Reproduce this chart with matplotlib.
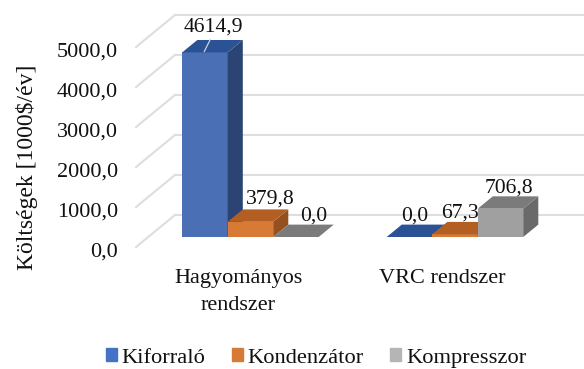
import matplotlib.pyplot as plt
from matplotlib.patches import Patch
from matplotlib.transforms import ScaledTranslation

plt.rcParams['font.family'] = ['Liberation Serif', 'DejaVu Sans']

categories = ['Hagyományos\nrendszer', 'VRC rendszer']
series_names = ['Kiforraló', 'Kondenzátor', 'Kompresszor']
kiforralo = [4614.9, 0.0]
kondenzator = [379.8, 67.3]
kompresszor = [0.0, 706.8]
y_ticks = [0, 1000, 2000, 3000, 4000, 5000]

# front, top, side shade of each series
colors = {
    'Kiforraló': ('#4a6fb4', '#2c5296', '#2c4474'),
    'Kondenzátor': ('#d67a35', '#b35e22', '#94501e'),
    'Kompresszor': ('#a0a0a0', '#7b7b7b', '#6a6a6a'),
}
legend_colors = ['#4472c4', '#d67a35', '#b5b5b5']

# fake 3d: shear per unit of depth, in data units
DEPTH_X = 39 / 204.5
DEPTH_Y = 800
D_FRONT = 0.3125
D_BACK = 0.7
BAR_W = 0.2225
GRID = '#dedede'

W, H = 584, 369
fig = plt.figure(figsize=(W / 100, H / 100), dpi=100)
ax = fig.add_axes([136 / W, 1 - 247 / H, 409 / W, 200 / H])
ax.set_xlim(-0.5, 1.5)
ax.set_ylim(0, 5000)
for s in ax.spines.values():
    s.set_visible(False)

for t in y_ticks:
    ax.plot([-0.5, -0.5 + DEPTH_X], [t, t + DEPTH_Y], color=GRID, lw=1.5, clip_on=False, zorder=1)
    ax.plot([-0.5 + DEPTH_X, 1.5 + DEPTH_X], [t + DEPTH_Y, t + DEPTH_Y], color=GRID, lw=1.5, clip_on=False, zorder=1)


def draw_bar(x, v, name, z):
    front, top, side = colors[name]
    fx, bx = D_FRONT * DEPTH_X, D_BACK * DEPTH_X
    fy, by = D_FRONT * DEPTH_Y, D_BACK * DEPTH_Y
    x0, x1 = x - BAR_W / 2, x + BAR_W / 2
    if v > 0:
        ax.bar(x + fx, v, BAR_W, bottom=fy, color=front, clip_on=False, zorder=z)
        ax.fill([x1 + fx, x1 + bx, x1 + bx, x1 + fx], [fy, by, v + by, v + fy],
                color=side, lw=0, clip_on=False, zorder=z)
    ax.fill([x0 + fx, x1 + fx, x1 + bx, x0 + bx], [v + fy, v + fy, v + by, v + by],
            color=top, lw=0, clip_on=False, zorder=z)
    return x + (fx + bx) / 2, v + by


# label shifts from the top back edge, in points
nudges = {
    (0, 0): (0.5, 9.5), (0, 1): (9, 7.5), (0, 2): (7, 6.5),
    (1, 0): (-2, 6.5), (1, 1): (-1.5, 6.5), (1, 2): (1, 6),
}
series = [kiforralo, kondenzator, kompresszor]
z = 3
for c in range(len(categories)):
    for i, name in enumerate(series_names):
        v = series[i][c]
        x = c + (i - 1) * BAR_W
        lx, ly = draw_bar(x, v, name, z)
        z += 1
        dx, dy = nudges[(c, i)]
        ax.annotate(f'{v:.1f}'.replace('.', ','), (lx, ly), xytext=(dx, dy), textcoords='offset points',
                    ha='center', va='center', fontsize=15.6, color='#111111', zorder=50, annotation_clip=False)

# leader line of the tall bar
ax.annotate('', (0 - BAR_W + 0.19 * DEPTH_X + 0.02, kiforralo[0] + D_FRONT * DEPTH_Y + 20),
            xytext=(0 - BAR_W + 0.19 * DEPTH_X + 0.05, kiforralo[0] + D_BACK * DEPTH_Y + 20),
            arrowprops=dict(arrowstyle='-', color='#c9d3e6', lw=0.9, shrinkA=0, shrinkB=0), zorder=40)

ax.set_yticks(y_ticks)
ax.set_yticklabels([f'{t:.1f}'.replace('.', ',') for t in y_ticks], fontsize=16, color='#111111')
ax.set_xticks([0, 1])
ax.set_xticklabels(categories, fontsize=16, color='#111111', linespacing=1.55)
ax.tick_params(axis='y', length=0, pad=13)
ax.tick_params(axis='x', length=0, pad=16)
for lab in ax.get_yticklabels():
    lab.set_transform(lab.get_transform() + ScaledTranslation(0, -1.5 / 72, fig.dpi_scale_trans))

fig.text(27 / W, 1 - 167 / H, 'Költségek [1000$/év]', rotation=90, ha='center', va='center',
         fontsize=17, color='#111111')

handles = [Patch(color=col, label=n) for col, n in zip(legend_colors, series_names)]
fig.legend(handles=handles, loc='center', bbox_to_anchor=(316 / W, 1 - 358 / H), ncol=3, frameon=False,
           fontsize=16.2, handlelength=0.5, handleheight=0.5, handletextpad=0.22, columnspacing=1.15,
           labelcolor='#111111')

fig.savefig('out.png', dpi=100)
